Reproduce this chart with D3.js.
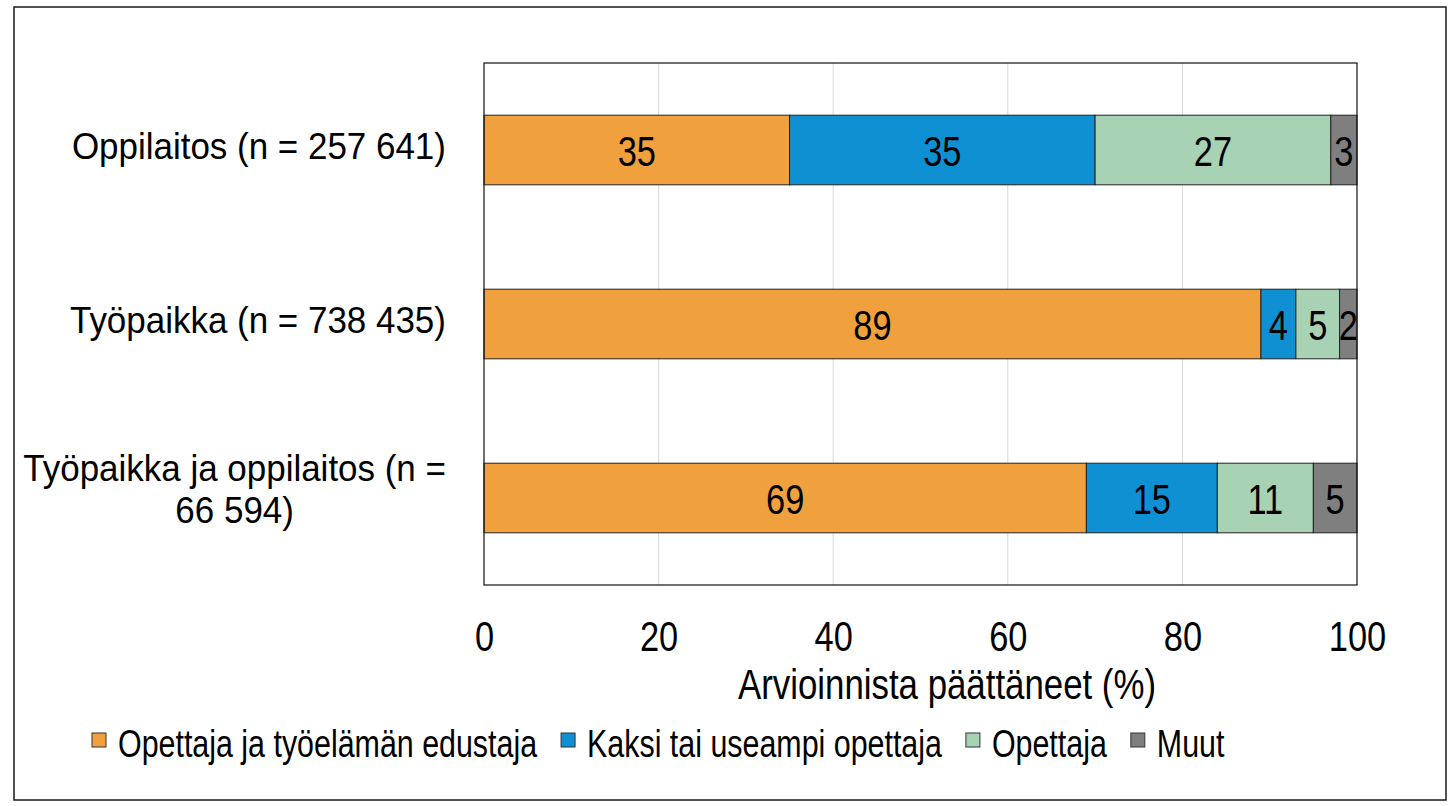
<!DOCTYPE html>
<html><head><meta charset="utf-8">
<script src="https://cdn.jsdelivr.net/npm/d3@7"></script>
<style>body{margin:0;background:#fff}svg{display:block}</style>
</head><body>
<svg id="c" width="1450" height="806"></svg>
<script>
const categories = ["Oppilaitos (n = 257 641)", "Työpaikka (n = 738 435)", "Työpaikka ja oppilaitos (n = 66 594)"];
const seriesNames = ["Opettaja ja työelämän edustaja", "Kaksi tai useampi opettaja", "Opettaja", "Muut"];
const sOpettajaTyoelama = [35, 89, 69];
const sKaksiTaiUseampi = [35, 4, 15];
const sOpettaja = [27, 5, 11];
const sMuut = [3, 2, 5];
const xTicks = [0, 20, 40, 60, 80, 100];
const xTitle = "Arvioinnista päättäneet (%)";
const colors = ["#F0A13D", "#0F90D2", "#A8D2B4", "#7F7F7F"];

const seriesValues = [sOpettajaTyoelama, sKaksiTaiUseampi, sOpettaja, sMuut];
const FONT = "'Liberation Sans', Arial, sans-serif";
const svg = d3.select("#c");

// outer frame
svg.append("rect").attr("x", 14).attr("y", 7).attr("width", 1432).attr("height", 793)
  .attr("fill", "none").attr("stroke", "#1a1a1a").attr("stroke-width", 1.5);

const L = 484, R = 1357, T = 63, B = 585;
const x = d3.scaleLinear().domain([0, 100]).range([L, R]);
const y = d3.scaleBand().domain(categories).range([T, B]).paddingInner(0.6).paddingOuter(0.3);

// gridlines
svg.append("g").selectAll("line").data(xTicks.filter(t => t > 0 && t < 100)).join("line")
  .attr("x1", d => x(d)).attr("x2", d => x(d)).attr("y1", T).attr("y2", B)
  .attr("stroke", "#d9d9d9").attr("stroke-width", 1);

// stacked data
const rows = categories.map((c, i) => {
  let acc = 0;
  return seriesNames.map((s, j) => {
    const v = seriesValues[j][i];
    const r = {cat: c, j, v, x0: acc, x1: acc + v};
    acc += v;
    return r;
  });
}).flat();

svg.append("g").selectAll("rect").data(rows).join("rect")
  .attr("x", d => x(d.x0)).attr("width", d => x(d.x1) - x(d.x0))
  .attr("y", d => y(d.cat)).attr("height", y.bandwidth())
  .attr("fill", d => colors[d.j]).attr("stroke", "#222").attr("stroke-width", 1);

// plot border
svg.append("rect").attr("x", L).attr("y", T).attr("width", R - L).attr("height", B - T)
  .attr("fill", "none").attr("stroke", "#111").attr("stroke-width", 1.2);

function stext(g, tx, ty, str, size, sx, anchor) {
  return g.append("text").attr("transform", `translate(${tx},${ty}) scale(${sx},1)`)
    .attr("text-anchor", anchor).attr("font-family", FONT).attr("font-size", size)
    .attr("fill", "#000").text(str);
}

// bar labels
const lg = svg.append("g");
rows.forEach(d => {
  stext(lg, (x(d.x0) + x(d.x1)) / 2, y(d.cat) + y.bandwidth() / 2 + 16, d.v, 43, 0.8, "middle");
});

// x axis
const ax = svg.append("g").attr("transform", `translate(0,${B})`)
  .call(d3.axisBottom(x).tickValues(xTicks).tickSize(0).tickPadding(0));
ax.select(".domain").remove();
ax.selectAll("text").attr("y", 66).attr("dy", 0).attr("font-family", FONT).attr("font-size", 43)
  .attr("fill", "#000").attr("transform", "scale(0.8,1)");

// x title
stext(svg, 947, 699, xTitle, 43, 0.81, "middle");

// category labels (wrapped, centered lines, right-aligned block)
const CS = 37, CSX = 0.945, maxW = 440, rightEdge = 446, lineH = 42;
categories.forEach(c => {
  const words = c.split(" ");
  const meas = svg.append("text").attr("font-family", FONT).attr("font-size", CS);
  const width = s => { meas.text(s); return meas.node().getComputedTextLength() * CSX; };
  const lines = [];
  let cur = "";
  words.forEach(w => {
    const t = cur ? cur + " " + w : w;
    if (cur && width(t) > maxW) { lines.push(cur); cur = w; } else cur = t;
  });
  lines.push(cur);
  const widths = lines.map(width);
  meas.remove();
  const bw = d3.max(widths);
  const cx = rightEdge - bw / 2;
  const cy = y(c) + y.bandwidth() / 2;
  const first = cy + 9 - (lines.length - 1) * lineH / 2 - (lines.length > 1 ? 5 : 0);
  lines.forEach((ln, k) => stext(svg, cx, first + k * lineH, ln, CS, CSX, "middle"));
});

// legend
const leg = svg.append("g");
let lx = 92;
seriesNames.forEach((s, j) => {
  leg.append("rect").attr("x", lx).attr("y", 733).attr("width", 14).attr("height", 14)
    .attr("fill", colors[j]).attr("stroke", "#333").attr("stroke-width", 1);
  const t = stext(leg, lx + 26, 757, s, 38, 0.8, "start");
  const w = t.node().getComputedTextLength() * 0.8;
  lx = lx + 26 + w + 24;
});
</script>
</body></html>
